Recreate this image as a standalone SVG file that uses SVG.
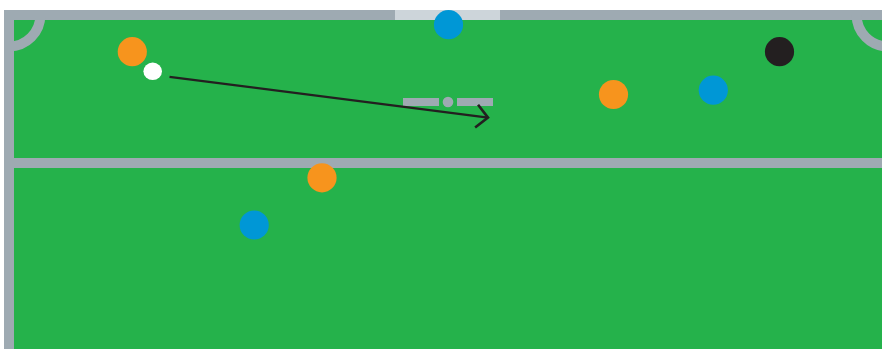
<svg xmlns="http://www.w3.org/2000/svg" width="882" height="349" viewBox="0 0 882 349">
  <defs>
    <style>
      .line { stroke: #9eaab2; stroke-width: 10; fill: none; }
      .mark { fill: #9eaab2; }
      .orange { fill: #f7941d; }
      .blue { fill: #0097d6; }
      .black { fill: #231f20; }
      .white { fill: #ffffff; }
      .conn { stroke: #231f20; stroke-width: 2.3; fill: none; }
    </style>
    <marker id="arrow" viewBox="0 0 16 26" refX="13" refY="13" markerWidth="16" markerHeight="26" markerUnits="userSpaceOnUse" orient="auto">
      <path d="M1.5,1.5 L13,13 L1.5,24.5" fill="none" stroke="#231f20" stroke-width="2.6"/>
    </marker>
  </defs>
  <rect x="0" y="0" width="882" height="349" fill="#ffffff"/>
  <g id="field">
    <rect x="4" y="10" width="890" height="350" fill="#25b24b"/>
    <path class="line" d="M9,349 L9,15 L890,15"/>
    <rect x="395" y="10" width="105" height="10" fill="#cdd5da"/>
    <line class="line" x1="14" y1="163" x2="882" y2="163"/>
    <path class="line" d="M40.4,15 A31.4,31.4 0 0 1 9,46.4"/>
    <path class="line" d="M856.6,15 A31.4,31.4 0 0 0 888,46.4"/>
  </g>
  <g id="penalty-mark">
    <rect class="mark" x="403" y="98" width="36" height="8"/>
    <circle class="mark" cx="448" cy="102" r="5.3"/>
    <rect class="mark" x="457" y="98" width="36" height="8"/>
  </g>
  <g id="connectors">
    <line class="conn" x1="169.5" y1="76.8" x2="488" y2="117.6" marker-end="url(#arrow)"/>
  </g>
  <g id="ball">
    <ellipse class="white" cx="152.7" cy="71.3" rx="9.3" ry="8.7"/>
  </g>
  <g id="orange-1"><circle class="orange" cx="132.3" cy="51.7" r="14.6"/></g>
  <g id="orange-2"><circle class="orange" cx="613.5" cy="94.5" r="14.6"/></g>
  <g id="orange-3"><circle class="orange" cx="322" cy="177.8" r="14.6"/></g>
  <g id="blue-1"><circle class="blue" cx="448.5" cy="24.7" r="14.6"/></g>
  <g id="blue-2"><circle class="blue" cx="713.3" cy="90.2" r="14.6"/></g>
  <g id="blue-3"><circle class="blue" cx="254.2" cy="225" r="14.6"/></g>
  <g id="black-1"><circle class="black" cx="779.5" cy="51.7" r="14.6"/></g>
</svg>
